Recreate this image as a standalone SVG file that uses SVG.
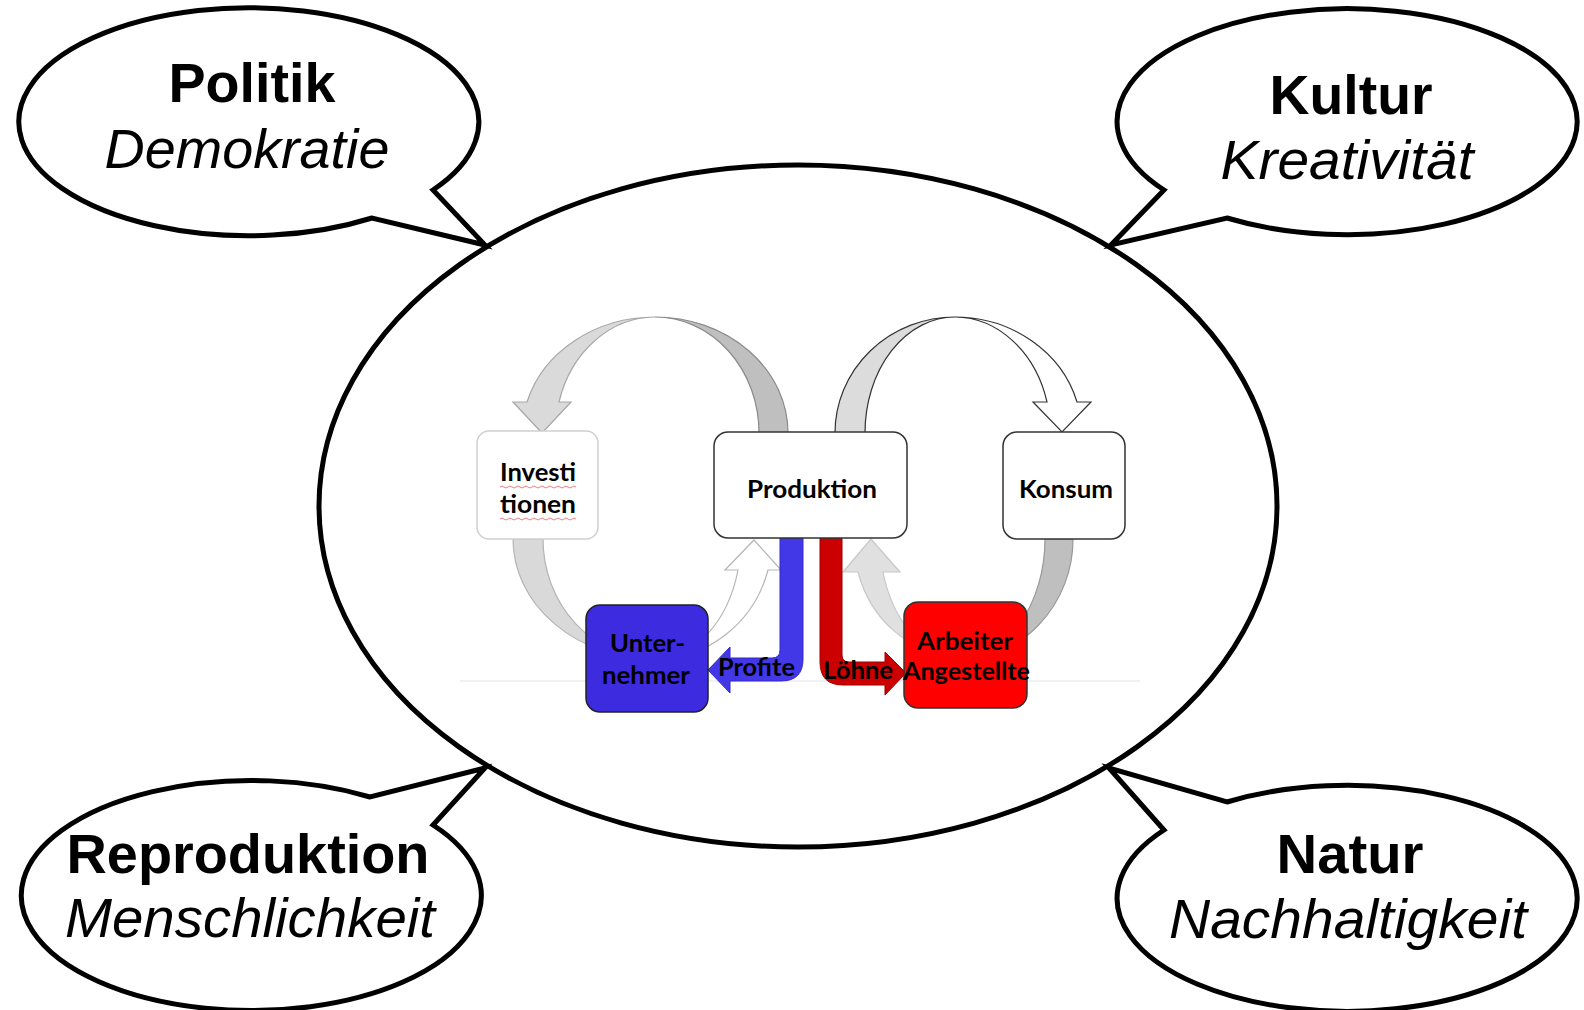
<svg xmlns="http://www.w3.org/2000/svg" width="1584" height="1010" viewBox="0 0 1584 1010">
<style>
.bubble{fill:#fff;stroke:#000;stroke-width:5;stroke-linejoin:miter}
.title{font-family:"Liberation Sans",Arial,sans-serif;font-weight:bold;font-size:56px;fill:#000;text-anchor:middle}
.sub{font-family:"Liberation Sans",Arial,sans-serif;font-style:italic;font-size:56px;fill:#000;text-anchor:middle}
.lbl{font-family:Lato,"Open Sans",sans-serif;font-weight:bold;font-size:25px;fill:#000}
.box{stroke-width:1.5}
</style>
<rect width="1584" height="1010" fill="#fff"/>
<g id="economy">
<ellipse cx="798" cy="506" rx="479" ry="341" fill="#fff" stroke="#000" stroke-width="5"/>
</g>
<g id="politik">
<path class="bubble" d="M433,190 A230 114 0 1 0 372,218 L485,245 Z"/>
<text class="title" x="252" y="102" textLength="167" lengthAdjust="spacingAndGlyphs">Politik</text>
<text class="sub" x="247" y="168" textLength="285" lengthAdjust="spacingAndGlyphs">Demokratie</text>
</g>
<g id="kultur">
<path class="bubble" d="M1164,190 A230 113 0 1 1 1227,218 L1111,245 Z"/>
<text class="title" x="1351" y="114" textLength="163" lengthAdjust="spacingAndGlyphs">Kultur</text>
<text class="sub" x="1347" y="179" textLength="253" lengthAdjust="spacingAndGlyphs">Kreativität</text>
</g>
<g id="reproduktion">
<path class="bubble" d="M433,825 A230 115 0 1 1 370,797 L485,768 Z"/>
<text class="title" x="248" y="873" textLength="363" lengthAdjust="spacingAndGlyphs">Reproduktion</text>
<text class="sub" x="250" y="937" textLength="370" lengthAdjust="spacingAndGlyphs">Menschlichkeit</text>
</g>
<g id="natur">
<path class="bubble" d="M1164,830 A230 113 0 1 0 1227,802 L1109,768 Z"/>
<text class="title" x="1350" y="873" textLength="147" lengthAdjust="spacingAndGlyphs">Natur</text>
<text class="sub" x="1348" y="938" textLength="358" lengthAdjust="spacingAndGlyphs">Nachhaltigkeit</text>
</g>
<line x1="460" y1="681" x2="1140" y2="681" stroke="#ececec" stroke-width="1.5"/>
<g id="connectors" stroke-width="1.2" stroke-linejoin="miter">
<path d="M788,433 A133 116 0 0 0 655,317 A104 116 0 0 1 759,433 Z" fill="#bfbfbf" stroke="#8a8a8a"/>
<path d="M655,317 A133 116 0 0 0 527,402 L513,402 L542,433 L571,402 L559,402 A100 116 0 0 1 655,317 Z" fill="#dadada" stroke="#a8a8a8"/>
<path d="M513,539 A142 120 0 0 0 655,659 A112 120 0 0 1 543,539 Z" fill="#d9d9d9" stroke="#b5b5b5"/>
<path d="M655,659 A117 120 0 0 0 768,570 L781,570 L754,540 L725,570 L738,570 A86 120 0 0 1 655,659 Z" fill="#fff" stroke="#b5b5b5"/>
<path d="M835,433 A120 116 0 0 1 955,317 A90 116 0 0 0 865,433 Z" fill="#dcdcdc" stroke="#333"/>
<path d="M955,317 A127 116 0 0 1 1077,402 L1091,402 L1062,432 L1033,402 L1047,402 A96 116 0 0 0 955,317 Z" fill="#fff" stroke="#333"/>
<path d="M1073,539 A118 122 0 0 1 955,661 A90 122 0 0 0 1045,539 Z" fill="#bfbfbf" stroke="#999"/>
<path d="M955,654 A101 115 0 0 1 858,572 L843,572 L871,539 L900,572 L883,572 A75 115 0 0 0 955,654 Z" fill="#e0e0e0" stroke="#c8c8c8"/>
<path d="M780,538 L780,650 Q780,658 772,658 L730,658 L730,647 L708,670 L730,693 L730,681 L781,681 Q803,681 803,659 L803,538 Z" fill="#4338e8" stroke="#3328c8" stroke-width="1"/>
<path d="M842,538 L842,655 Q842,662 849,662 L885,662 L885,652 L906,673 L885,695 L885,685 L843,685 Q820,685 820,662 L820,538 Z" fill="#cc0000" stroke="#a00000" stroke-width="1"/>
</g>
<g id="investitionen">
<rect class="box" x="477" y="431" width="121" height="108" rx="12" fill="#fff" stroke="#d0d0d0"/>
<text class="lbl" x="500" y="481" textLength="76" lengthAdjust="spacingAndGlyphs">Investi</text>
<text class="lbl" x="500" y="513" textLength="76" lengthAdjust="spacingAndGlyphs">tionen</text>
<path d="M500,487 q2,-2 4,0 t4,0 t4,0 t4,0 t4,0 t4,0 t4,0 t4,0 t4,0 t4,0 t4,0 t4,0 t4,0 t4,0 t4,0 t4,0 t4,0 t4,0 t4,0" fill="none" stroke="#e06060" stroke-width="0.8"/>
<path d="M500,519 q2,-2 4,0 t4,0 t4,0 t4,0 t4,0 t4,0 t4,0 t4,0 t4,0 t4,0 t4,0 t4,0 t4,0 t4,0 t4,0 t4,0 t4,0 t4,0 t4,0" fill="none" stroke="#e06060" stroke-width="0.8"/>
</g>
<g id="produktion">
<rect class="box" x="714" y="432" width="193" height="106" rx="14" fill="#fff" stroke="#333"/>
<text class="lbl" x="747" y="498" textLength="130" lengthAdjust="spacingAndGlyphs">Produktion</text>
</g>
<g id="konsum">
<rect class="box" x="1003" y="432" width="122" height="107" rx="14" fill="#fff" stroke="#333"/>
<text class="lbl" x="1019" y="498" textLength="94" lengthAdjust="spacingAndGlyphs">Konsum</text>
</g>
<g id="unternehmer">
<rect class="box" x="586" y="605" width="122" height="107" rx="14" fill="#3d2be0" stroke="#222"/>
<text class="lbl" x="610" y="652" textLength="75" lengthAdjust="spacingAndGlyphs">Unter-</text>
<text class="lbl" x="602" y="684" textLength="88" lengthAdjust="spacingAndGlyphs">nehmer</text>
</g>
<g id="arbeiter">
<rect class="box" x="904" y="602" width="123" height="106" rx="14" fill="#ff0000" stroke="#333"/>
<text class="lbl" x="917" y="650" textLength="96" lengthAdjust="spacingAndGlyphs">Arbeiter</text>
<text class="lbl" x="903" y="680" textLength="127" lengthAdjust="spacingAndGlyphs">Angestellte</text>
</g>
<g id="flow-labels">
<text class="lbl" x="718" y="676" textLength="77" lengthAdjust="spacingAndGlyphs">Profite</text>
<text class="lbl" x="823" y="679" textLength="70" lengthAdjust="spacingAndGlyphs">Löhne</text>
</g>
</svg>
